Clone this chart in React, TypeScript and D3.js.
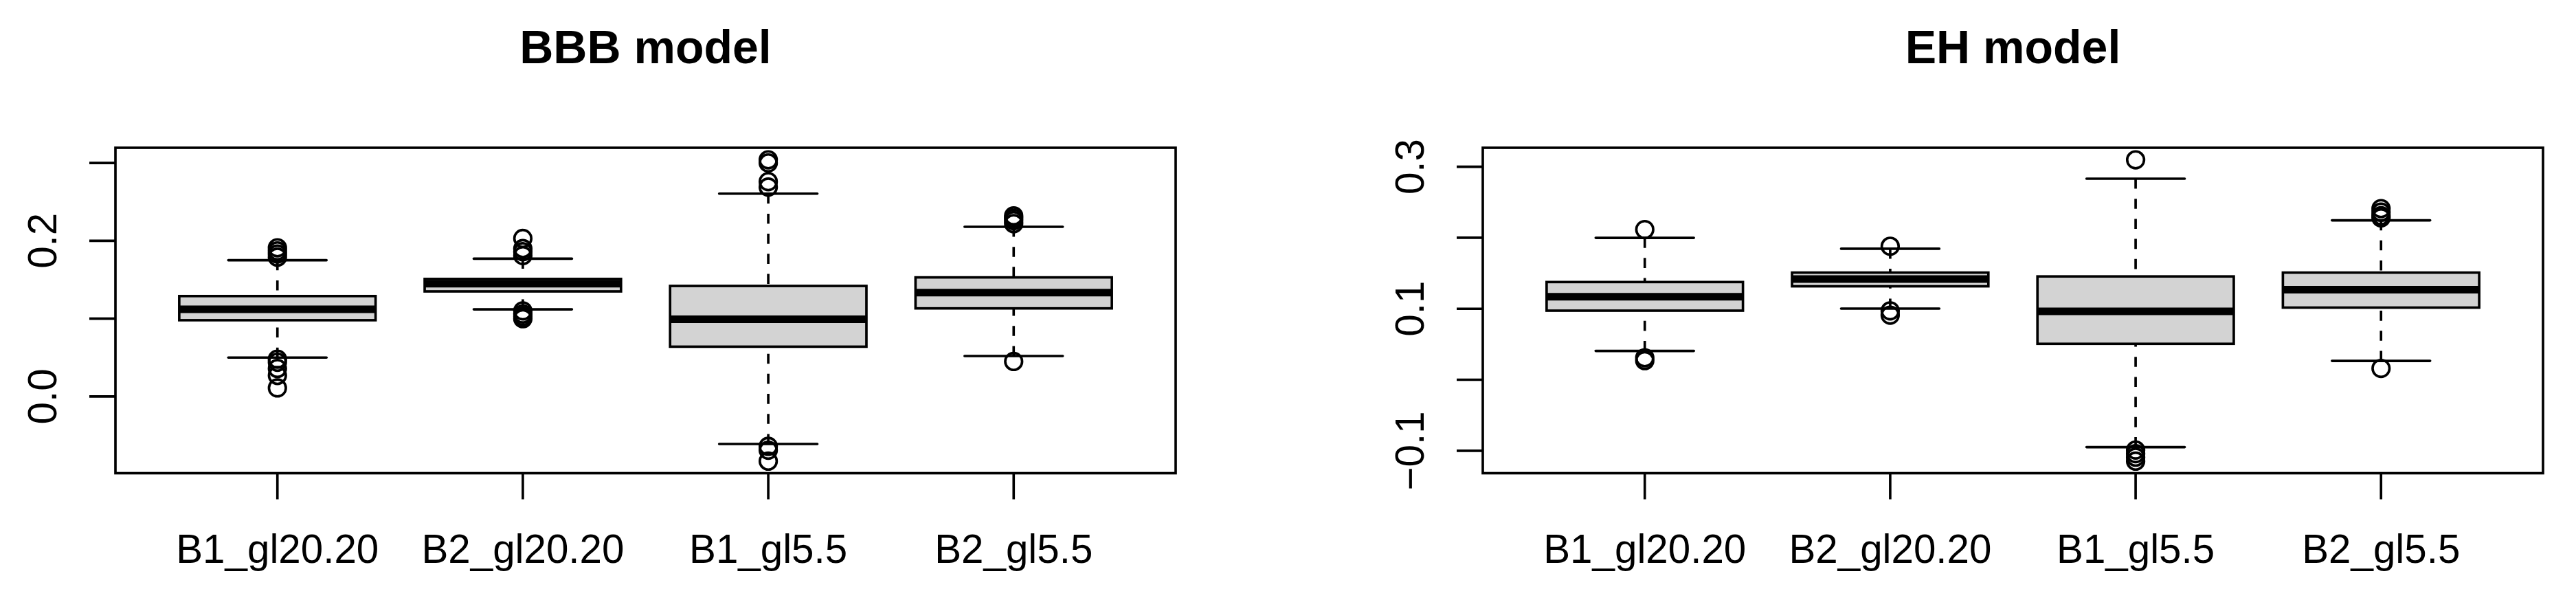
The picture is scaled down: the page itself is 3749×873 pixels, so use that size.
import React from 'react';
import { scaleLinear, extent } from 'd3';

// group names on the x axis
const categories = ['B1_gl20.20', 'B2_gl20.20', 'B1_gl5.5', 'B2_gl5.5'];

// five-number summaries: [lower whisker, Q1, median, Q3, upper whisker]
const bbbStats = [
  [0.050, 0.098, 0.112, 0.129, 0.175],
  [0.112, 0.135, 0.145, 0.151, 0.177],
  [-0.061, 0.064, 0.0992, 0.142, 0.2606],
  [0.052, 0.1132, 0.1335, 0.153, 0.218],
];
const bbbOutliers = [
  [0.191, 0.187, 0.183, 0.179, 0.048, 0.044, 0.036, 0.027, 0.011],
  [0.203, 0.190, 0.186, 0.181, 0.110, 0.106, 0.103, 0.100],
  [0.304, 0.300, 0.276, 0.269, -0.064, -0.069, -0.083],
  [0.232, 0.229, 0.226, 0.222, 0.045],
];
const bbbTicks = [0, 0.1, 0.2, 0.3];
const bbbTickLabels = ['0.0', '', '0.2', ''];

const ehStats = [
  [0.0406, 0.0973, 0.1169, 0.1376, 0.1998],
  [0.1002, 0.1316, 0.1419, 0.1509, 0.1845],
  [-0.0949, 0.0506, 0.0963, 0.1455, 0.2831],
  [0.0266, 0.1016, 0.1269, 0.1509, 0.2245],
];
const ehOutliers = [
  [0.2115, 0.031, 0.027],
  [0.188, 0.097, 0.091],
  [0.3097, -0.099, -0.104, -0.109, -0.1146],
  [0.241, 0.236, 0.231, 0.228, 0.016],
];
const ehTicks = [-0.1, 0, 0.1, 0.2, 0.3];
const ehTickLabels = ['\u22120.1', '', '0.1', '', '0.3'];

const titles = ['BBB model', 'EH model'];

// page + plot geometry
const W = 3749, H = 873;
const plotLefts = [168, 2158];
const plotW = 1543;
const plotTop = 215, plotBottom = 688.5;
const lwd = 3.65;
const font = '"Liberation Sans", Arial, Helvetica, sans-serif';

function Panel({ left, title, stats, outliers, ticks, tickLabels }) {
  const x = scaleLinear().domain([0.34, categories.length + 0.66]).range([left, left + plotW]);

  // R style: data range padded by 4%
  const all = stats.flat().concat(outliers.flat());
  const [lo, hi] = extent(all);
  const pad = (hi - lo) * 0.04;
  const y = scaleLinear().domain([lo - pad, hi + pad]).range([plotBottom, plotTop]);

  const boxW = x(1.4) - x(1);   // half of 0.8 box width
  const stapleW = boxW / 2;

  return (
    <g>
      <text x={left + plotW / 2} y={91.7} textAnchor="middle" fontFamily={font}
        fontWeight="bold" fontSize={68}>{title}</text>

      {/* boxes */}
      {stats.map((s, i) => {
        const cx = x(i + 1);
        return (
          <g key={i}>
            <line x1={cx} x2={cx} y1={y(s[4])} y2={y(s[3])} stroke="#000" strokeWidth={lwd}
              strokeDasharray="14.6 14.6" />
            <line x1={cx} x2={cx} y1={y(s[0])} y2={y(s[1])} stroke="#000" strokeWidth={lwd}
              strokeDasharray="14.6 14.6" />
            <line x1={cx - stapleW} x2={cx + stapleW} y1={y(s[4])} y2={y(s[4])} stroke="#000"
              strokeWidth={lwd} strokeLinecap="round" />
            <line x1={cx - stapleW} x2={cx + stapleW} y1={y(s[0])} y2={y(s[0])} stroke="#000"
              strokeWidth={lwd} strokeLinecap="round" />
            <rect x={cx - boxW} width={boxW * 2} y={y(s[3])} height={y(s[1]) - y(s[3])}
              fill="#d3d3d3" stroke="#000" strokeWidth={lwd} />
            <line x1={cx - boxW} x2={cx + boxW} y1={y(s[2])} y2={y(s[2])} stroke="#000"
              strokeWidth={lwd * 3} />
            {outliers[i].map((o, j) => (
              <circle key={j} cx={cx} cy={y(o)} r={12.3} fill="none" stroke="#000" strokeWidth={lwd} />
            ))}
          </g>
        );
      })}

      {/* frame */}
      <rect x={left} y={plotTop} width={plotW} height={plotBottom - plotTop} fill="none"
        stroke="#000" strokeWidth={lwd} />

      {/* x axis */}
      {categories.map((c, i) => (
        <g key={c}>
          <line x1={x(i + 1)} x2={x(i + 1)} y1={plotBottom} y2={plotBottom + 38} stroke="#000" strokeWidth={lwd} />
          <text x={x(i + 1)} y={819.3} textAnchor="middle" fontFamily={font} fontSize={58.3}>{c}</text>
        </g>
      ))}

      {/* y axis */}
      {ticks.map((t, i) => (
        <g key={t}>
          <line x1={left - 38} x2={left} y1={y(t)} y2={y(t)} stroke="#000" strokeWidth={lwd} />
          {tickLabels[i] && (
            <text transform={`translate(${left - 86.5},${y(t)}) rotate(-90)`} textAnchor="middle"
              fontFamily={font} fontSize={58.3}>{tickLabels[i]}</text>
          )}
        </g>
      ))}
    </g>
  );
}

export default function App() {
  return (
    <svg width={W} height={H} style={{ position: 'absolute', left: 0, top: 0, background: '#fff' }}>
      <rect width={W} height={H} fill="#fff" />
      <Panel left={plotLefts[0]} title={titles[0]} stats={bbbStats} outliers={bbbOutliers}
        ticks={bbbTicks} tickLabels={bbbTickLabels} />
      <Panel left={plotLefts[1]} title={titles[1]} stats={ehStats} outliers={ehOutliers}
        ticks={ehTicks} tickLabels={ehTickLabels} />
    </svg>
  );
}
